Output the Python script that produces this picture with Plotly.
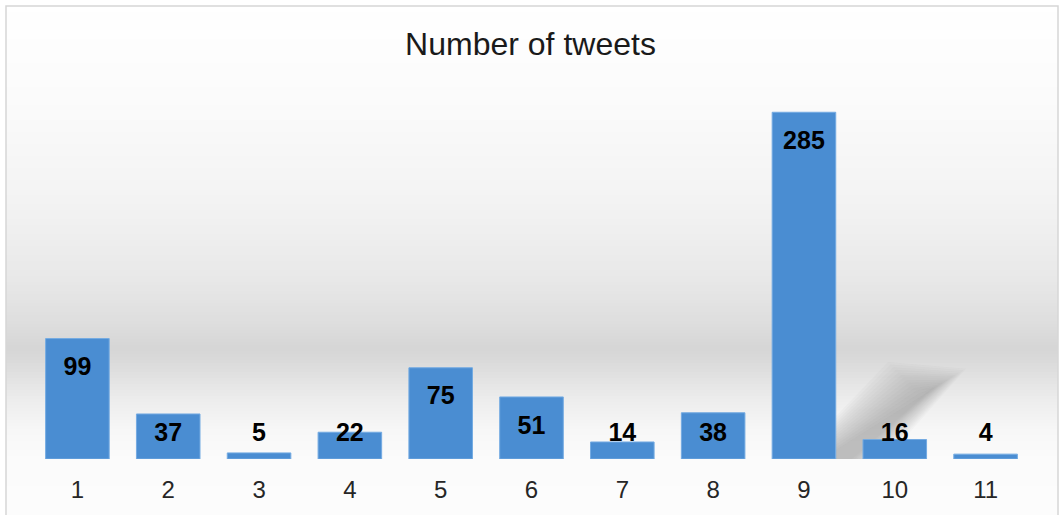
import plotly.graph_objects as go

categories = ["1", "2", "3", "4", "5", "6", "7", "8", "9", "10", "11"]
tweets = [99, 37, 5, 22, 75, 51, 14, 38, 285, 16, 4]
title_text = "Number of tweets"

W, H = 1061, 515
ML, MR, MT, MB = 32, 30, 94, 56
PW = W - ML - MR
PH = H - MT - MB
Y_MAX = 300


def px_x(px):
    return (px - ML) / PW


def px_y(py):
    return (H - MB - py) / PH


# label placement: inside the bar top, but not lower than a minimum height
label_offset = 25.0
label_min = 20.0
label_y = [max(v - label_offset, label_min) for v in tweets]

fig = go.Figure()
fig.add_trace(go.Bar(
    x=categories, y=tweets, width=0.70,
    marker=dict(color="#4a8dd2", line=dict(color="#74abe2", width=1)),
    hoverinfo="x+y", showlegend=False,
))
fig.add_trace(go.Scatter(
    x=categories, y=label_y, mode="text",
    text=[str(v) for v in tweets],
    textposition="middle center",
    textfont=dict(family="Liberation Sans, Arial, sans-serif", size=25, color="#000000", weight="bold"),
    hoverinfo="skip", showlegend=False, cliponaxis=False,
))

shapes = []
# background vertical gradient (style only)
stops = [(0, 255), (100, 251), (200, 243), (280, 232), (330, 220), (348, 213),
         (368, 221), (400, 237), (430, 247), (460, 251), (515, 252)]


def gray_at(py):
    for (a, ga), (b, gb) in zip(stops[:-1], stops[1:]):
        if a <= py <= b:
            t = (py - a) / (b - a)
            return round(ga + (gb - ga) * t)
    return 252


step = 3
py = 6
while py < H:
    g = gray_at(py + step / 2)
    shapes.append(dict(type="rect", xref="paper", yref="paper", layer="below",
                       x0=px_x(6), x1=px_x(1058), y0=px_y(py + step), y1=px_y(py),
                       line=dict(width=0), fillcolor=f"rgb({g},{g},{g})"))
    py += step

# soft shadow behind the tall bar (many faint layers -> blurred edge)
n_layers = 14
for k in range(n_layers):
    d = 22 - k * 2.6
    path = (f"M {px_x(836)},{px_y(459)} L {px_x(836)},{px_y(438 - d)} "
            f"L {px_x(910 - d)},{px_y(384 - d)} L {px_x(944 + d)},{px_y(382 - d * 0.6)} "
            f"L {px_x(864 + d)},{px_y(459)} Z")
    shapes.append(dict(type="path", xref="paper", yref="paper", layer="below",
                       path=path, line=dict(width=0), fillcolor="rgba(80,80,80,0.03)"))

# chart frame
shapes.append(dict(type="rect", xref="paper", yref="paper", layer="below",
                   x0=px_x(6), x1=px_x(1058), y0=px_y(525), y1=px_y(6),
                   line=dict(color="#d6d6d6", width=1.5), fillcolor="rgba(0,0,0,0)"))

fig.update_layout(
    width=W, height=H,
    margin=dict(l=ML, r=MR, t=MT, b=MB),
    paper_bgcolor="#ffffff",
    plot_bgcolor="rgba(0,0,0,0)",
    title=dict(text=title_text, x=0.5, xanchor="center", y=1 - 44 / H, yanchor="middle",
               font=dict(family="Liberation Sans, Arial, sans-serif", size=32, color="#1a1a1a")),
    xaxis=dict(type="category", range=[-0.5, len(categories) - 0.5], showgrid=False,
               zeroline=False, showline=False, ticks="",
               tickfont=dict(family="Liberation Sans, Arial, sans-serif", size=24, color="#262626"),
               ticklabelstandoff=14, fixedrange=True),
    yaxis=dict(range=[0, Y_MAX], visible=False, showgrid=False, zeroline=False, fixedrange=True),
    bargap=0.3,
    shapes=shapes,
    showlegend=False,
)

fig.write_html(
    "out.html",
    config={"displayModeBar": False},
    post_script="document.documentElement.style.margin='0';document.body.style.margin='0';"
                "document.documentElement.style.overflow='hidden';document.body.style.overflow='hidden';",
)
